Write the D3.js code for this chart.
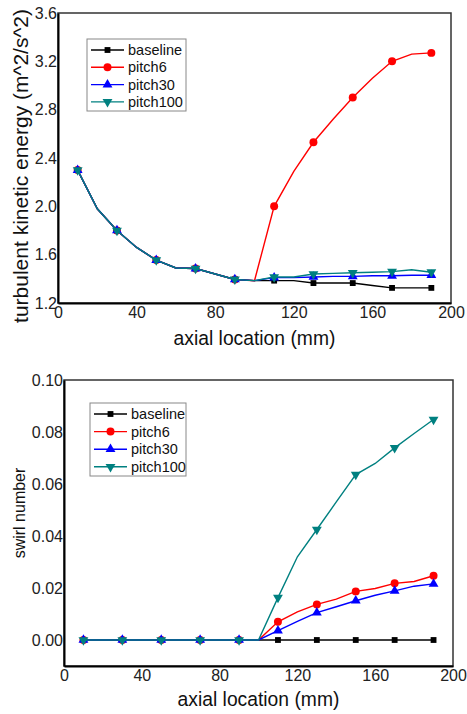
<!DOCTYPE html>
<html>
<head>
<meta charset="utf-8">
<script src="https://cdn.jsdelivr.net/npm/d3@7"></script>
<style>
  html, body { margin: 0; padding: 0; background: #fff; }
  svg { display: block; font-family: "Liberation Sans", Arial, sans-serif; }
</style>
</head>
<body>
<svg id="fig" width="467" height="714"></svg>
<script>
// Axial stations (mm) sampled every 10 mm; markers are placed on every other station
const axial = [10, 20, 30, 40, 50, 60, 70, 80, 90, 100, 110, 120, 130, 140, 150, 160, 170, 180, 190];
const markerStations = [10, 30, 50, 70, 90, 110, 130, 150, 170, 190];

const seriesNames = ["baseline", "pitch6", "pitch30", "pitch100"];
const seriesColors = ["#000000", "#ff0000", "#0000ff", "#008080"];
const seriesSymbols = ["square", "circle", "triangle", "triangleDown"];

// Turbulent kinetic energy (m^2/s^2)
const tkeBaseline = [2.30, 1.98, 1.80, 1.66, 1.555, 1.49, 1.485, 1.44, 1.395, 1.385, 1.385, 1.385, 1.365, 1.365, 1.365, 1.345, 1.325, 1.325, 1.325];
const tkePitch6   = [2.30, 1.98, 1.80, 1.66, 1.555, 1.49, 1.485, 1.44, 1.395, 1.385, 2.00, 2.29, 2.53, 2.72, 2.90, 3.06, 3.20, 3.26, 3.27];
const tkePitch30  = [2.30, 1.98, 1.80, 1.66, 1.555, 1.49, 1.485, 1.44, 1.395, 1.385, 1.41, 1.41, 1.415, 1.42, 1.42, 1.425, 1.425, 1.43, 1.43];
const tkePitch100 = [2.30, 1.98, 1.80, 1.66, 1.555, 1.49, 1.485, 1.44, 1.395, 1.385, 1.415, 1.415, 1.44, 1.445, 1.45, 1.455, 1.46, 1.475, 1.455];

// Swirl number
const swirlBaseline = [0, 0, 0, 0, 0, 0, 0, 0, 0, 0, 0, 0, 0, 0, 0, 0, 0, 0, 0];
const swirlPitch6   = [0, 0, 0, 0, 0, 0, 0, 0, 0, 0, 0.0070, 0.0108, 0.0137, 0.0157, 0.0187, 0.0198, 0.0218, 0.0225, 0.0247];
const swirlPitch30  = [0, 0, 0, 0, 0, 0, 0, 0, 0, 0, 0.0036, 0.0072, 0.0105, 0.0128, 0.0151, 0.0172, 0.0189, 0.0207, 0.0216];
const swirlPitch100 = [0, 0, 0, 0, 0, 0, 0, 0, 0, 0, 0.0163, 0.0320, 0.0425, 0.0531, 0.0636, 0.0679, 0.0739, 0.0794, 0.0848];

const xTicks = [0, 40, 80, 120, 160, 200];
const tkeTicks = [1.2, 1.6, 2.0, 2.4, 2.8, 3.2, 3.6];
const swirlTicks = [0.00, 0.02, 0.04, 0.06, 0.08, 0.10];

const svg = d3.select("#fig");

function symbolPath(kind, size) {
  if (kind === "square") return d3.symbol(d3.symbolSquare, size)();
  if (kind === "circle") return d3.symbol(d3.symbolCircle, size)();
  return d3.symbol(d3.symbolTriangle, size)();
}
const symbolSize = { square: 34, circle: 50, triangle: 42, triangleDown: 42 };

function drawPanel(cfg) {
  const x = d3.scaleLinear().domain([0, 200]).range([cfg.left, cfg.right]);
  const y = d3.scaleLinear().domain(cfg.yDomain).range([cfg.bottom, cfg.top]);
  const g = svg.append("g");

  // frame (top and right edges lighter)
  g.append("rect")
    .attr("x", cfg.left).attr("y", cfg.top)
    .attr("width", cfg.right - cfg.left).attr("height", cfg.bottom - cfg.top)
    .attr("fill", "none").attr("stroke", "#333").attr("stroke-width", 1.5);

  // series
  const line = d3.line().x(d => x(d[0])).y(d => y(d[1]));
  cfg.series.forEach((vals, i) => {
    const pts = axial.map((a, k) => [a, vals[k]]);
    g.append("path")
      .attr("d", line(pts))
      .attr("fill", "none")
      .attr("stroke", seriesColors[i])
      .attr("stroke-width", 1.4);
    const kind = seriesSymbols[i];
    g.selectAll(null)
      .data(pts.filter(p => markerStations.includes(p[0])))
      .enter().append("path")
      .attr("d", symbolPath(kind, symbolSize[kind]))
      .attr("transform", d => `translate(${x(d[0])},${y(d[1])})` + (kind === "triangleDown" ? " rotate(180)" : ""))
      .attr("fill", seriesColors[i]);
  });

  // left and bottom axes
  const xAxis = d3.axisBottom(x).tickValues(xTicks).tickSize(0).tickPadding(4).tickFormat(d3.format("d"));
  const gx = g.append("g").attr("transform", `translate(0,${cfg.bottom})`).call(xAxis);
  gx.select(".domain").attr("stroke", "#000").attr("stroke-width", 2);
  gx.selectAll("text").attr("font-size", 16).attr("fill", "#222").attr("font-family", "Liberation Sans, Arial, sans-serif");

  const yAxis = d3.axisLeft(y).tickValues(cfg.yTicks).tickSize(0).tickPadding(1).tickFormat(cfg.yFormat);
  const gy = g.append("g").attr("transform", `translate(${cfg.left},0)`).call(yAxis);
  gy.select(".domain").attr("stroke", "#000").attr("stroke-width", 2);
  gy.selectAll("text").attr("font-size", 16).attr("fill", "#222").attr("font-family", "Liberation Sans, Arial, sans-serif");

  // axis titles
  g.append("text")
    .attr("x", (cfg.left + cfg.right) / 2).attr("y", cfg.xTitleY)
    .attr("text-anchor", "middle").attr("font-size", 19.3).attr("fill", "#111")
    .text("axial location (mm)");
  g.append("text")
    .attr("transform", `translate(${cfg.yTitleX},${cfg.yTitleCY}) rotate(-90)`)
    .attr("text-anchor", "middle").attr("font-size", cfg.yTitleSize).attr("fill", "#111")
    .text(cfg.yTitle);

  // legend
  const L = cfg.legend;
  g.append("rect")
    .attr("x", L.x).attr("y", L.y).attr("width", L.w).attr("height", L.h)
    .attr("fill", "#fff").attr("stroke", "#888").attr("stroke-width", 1);
  seriesNames.forEach((name, i) => {
    const ry = L.y + L.row0 + i * L.step;
    g.append("line")
      .attr("x1", L.x + 4).attr("x2", L.x + 37).attr("y1", ry).attr("y2", ry)
      .attr("stroke", seriesColors[i]).attr("stroke-width", 1.4);
    const kind = seriesSymbols[i];
    g.append("path")
      .attr("d", symbolPath(kind, symbolSize[kind]))
      .attr("transform", `translate(${L.x + 20.5},${ry})` + (kind === "triangleDown" ? " rotate(180)" : ""))
      .attr("fill", seriesColors[i]);
    g.append("text")
      .attr("x", L.x + 41).attr("y", ry).attr("dy", "0.35em")
      .attr("font-size", 14.5).attr("fill", "#111")
      .text(name);
  });
}

drawPanel({
  left: 58, right: 451, top: 13, bottom: 303,
  yDomain: [1.2, 3.6], yTicks: tkeTicks, yFormat: d3.format(".1f"),
  series: [tkeBaseline, tkePitch6, tkePitch30, tkePitch100],
  xTitleY: 345, yTitleX: 28, yTitleCY: 166, yTitleSize: 21,
  yTitle: "turbulent kinetic energy (m^2/s^2)",
  legend: { x: 87, y: 39, w: 99, h: 72, row0: 11, step: 17.3 }
});

drawPanel({
  left: 64, right: 453, top: 380, bottom: 666,
  yDomain: [-0.01, 0.10], yTicks: swirlTicks, yFormat: d3.format(".2f"),
  series: [swirlBaseline, swirlPitch6, swirlPitch30, swirlPitch100],
  xTitleY: 706, yTitleX: 25, yTitleCY: 513, yTitleSize: 16,
  yTitle: "swirl number",
  legend: { x: 90, y: 403, w: 96, h: 73, row0: 11, step: 17.6 }
});
</script>
</body>
</html>
